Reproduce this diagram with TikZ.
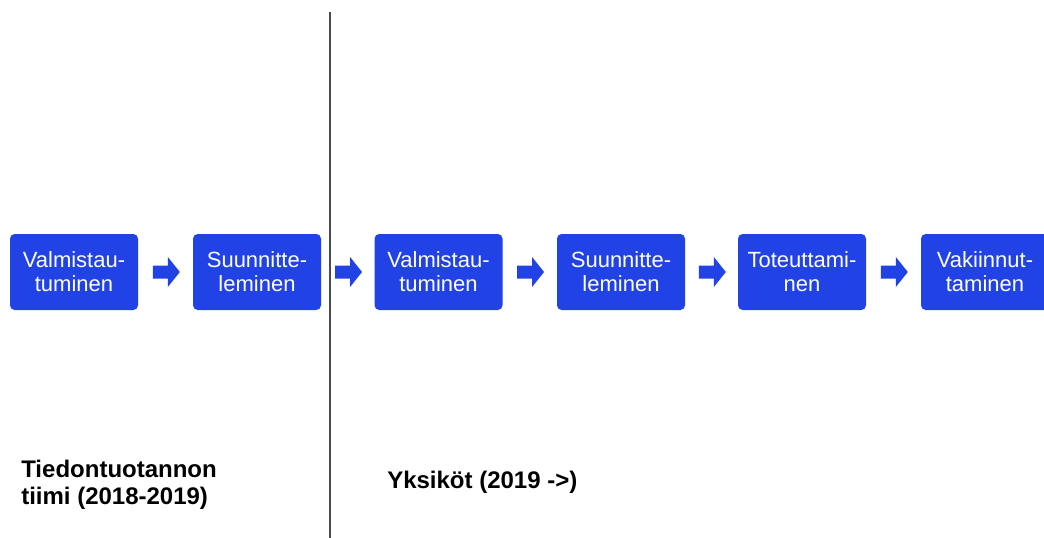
\documentclass[tikz,border=0pt]{standalone}
\usepackage{fontspec}
\setmainfont{Liberation Sans}
\usetikzlibrary{calc}
\definecolor{boxblue}{RGB}{33,66,229}
\definecolor{divider}{RGB}{70,78,84}
\begin{document}
\begin{tikzpicture}[x=0.75pt,y=-0.75pt,
  stepbox/.style={draw=none,fill=boxblue,rounded corners=3.5pt,minimum width=96pt,minimum height=57pt,
    inner sep=0pt,align=center,text=white,font=\fontsize{16.5}{18}\selectfont},
  blockarrow/.style={fill=boxblue,draw=none},
  label/.style={inner sep=0pt,align=left,font=\fontsize{18}{20.5}\selectfont\bfseries}]
\useasboundingbox (0,0) rectangle (1044,538);
\fill[white] (0,0) rectangle (1044,538);
\begin{scope}
\clip (0,0) rectangle (1044,538);
\node[stepbox] (b1) at (74,272) {Valmistau-\\tuminen};
\node[stepbox] (b2) at (257,272) {Suunnitte-\\leminen};
\node[stepbox] (b3) at (438.5,272) {Valmistau-\\tuminen};
\node[stepbox] (b4) at (621,272) {Suunnitte-\\leminen};
\node[stepbox] (b5) at (802,272) {Toteuttami-\\nen};
\node[stepbox] (b6) at (985,272) {Vakiinnut-\\taminen};
\end{scope}
\foreach \p/\q [count=\i] in {b1/b2,b2/b3,b3/b4,b4/b5,b5/b6}{
  \coordinate (a\i) at ($(\p.east)!0.5!(\q.west)+(0.8,0)$);
  \fill[blockarrow] ($(a\i)+(-13.5,-6.5)$) -- ($(a\i)+(1.5,-6.5)$) -- ($(a\i)+(1.5,-15)$)
    -- ($(a\i)+(13.5,0)$) -- ($(a\i)+(1.5,15)$) -- ($(a\i)+(1.5,6.5)$) -- ($(a\i)+(-13.5,6.5)$) -- cycle;
}
\coordinate (lt) at (330,12);
\coordinate (lb) at (330,538);
\draw[divider,line width=0.8pt] (lt) -- (lb);
\node[label,anchor=west] (l1) at (21,485) {Tiedontuotannon\\tiimi (2018-2019)};
\node[label,anchor=west] (l2) at (387,482) {Yksiköt (2019 ->)};
\end{tikzpicture}
\end{document}
